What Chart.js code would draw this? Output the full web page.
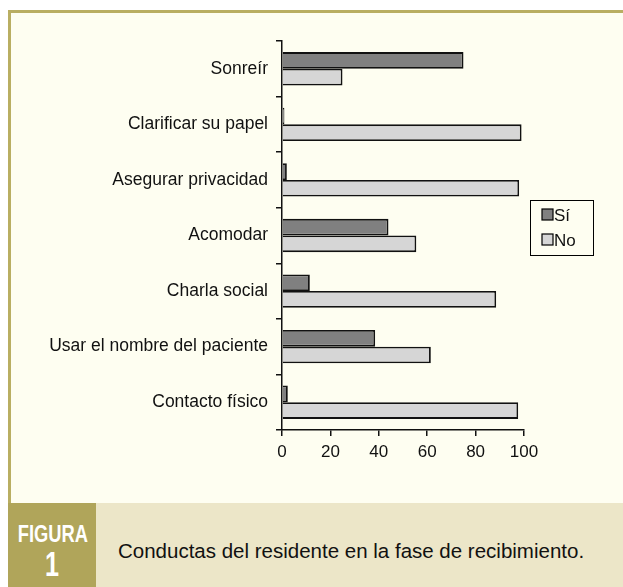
<!DOCTYPE html>
<html>
<head>
<meta charset="utf-8">
<script src="https://cdn.jsdelivr.net/npm/chart.js@4.4.0/dist/chart.umd.min.js"></script>
<style>
  body { margin: 0; background: #fff; width: 623px; height: 587px; overflow: hidden; position: relative;
         font-family: 'Liberation Sans', sans-serif; }
  .frame { position: absolute; left: 8px; top: 10px; width: 640px; height: 493px;
           background: #fefef1; border-top: 3px solid #b9ae62; border-left: 3px solid #b9ae62; box-sizing: border-box; }
  .band { position: absolute; left: 8px; top: 503px; width: 615px; height: 84px; background: #ece6c8; }
  .fig { position: absolute; left: 8px; top: 503px; width: 88px; height: 84px; background: #b0a55a; }
  .fig div { position: absolute; left: 0; width: 88px; text-align: center; color: #fff; font-weight: bold; }
  .fig .t { top: 17px; font-size: 23.5px; line-height: 28px; transform: scaleX(0.78); }
  .fig .n { top: 41px; font-size: 35px; line-height: 40px; transform: scaleX(0.72); }
  .cap { position: absolute; left: 118px; top: 539px; font-size: 20.5px; color: #111; }
  #wrap { position: absolute; left: 10px; top: 12px; width: 600px; height: 490px; }
</style>
</head>
<body>
<div class="frame"></div>
<div class="band"></div>
<div class="fig"><div class="t">FIGURA</div><div class="n">1</div></div>
<div class="cap">Conductas del residente en la fase de recibimiento.</div>
<div id="wrap"><canvas id="chart"></canvas></div>
<script>
// data
const categories = ['Sonreír', 'Clarificar su papel', 'Asegurar privacidad', 'Acomodar',
  'Charla social', 'Usar el nombre del paciente', 'Contacto físico'];
const seriesNames = ['Sí', 'No'];
const siValues = [75, 1, 2, 44, 11.5, 38.5, 2.4];
const noValues = [25, 99, 98, 55.5, 88.5, 61.5, 97.6];
const xTicks = [0, 20, 40, 60, 80, 100];

const font = "'Liberation Sans', sans-serif";

// legend box drawn on canvas
const boxLegend = {
  id: 'boxLegend',
  afterDraw(chart) {
    const ctx = chart.ctx;
    const x = 520, y = 188, w = 63, h = 55;
    ctx.save();
    ctx.fillStyle = '#fefef1';
    ctx.strokeStyle = '#000';
    ctx.lineWidth = 1;
    ctx.fillRect(x, y, w, h);
    ctx.strokeRect(x + 0.5, y + 0.5, w, h);
    ctx.font = '17px ' + font;
    ctx.textBaseline = 'middle';
    chart.data.datasets.forEach((ds, i) => {
      const cy = y + 15 + i * 25;
      ctx.fillStyle = ds.backgroundColor;
      ctx.fillRect(x + 12, cy - 6, 11, 11);
      ctx.lineWidth = 1.2;
      ctx.strokeRect(x + 12, cy - 6, 11, 11);
      ctx.fillStyle = '#111';
      ctx.fillText(ds.label, x + 24, cy + 1);
    });
    ctx.restore();
  }
};

new Chart(document.getElementById('chart'), {
  type: 'bar',
  data: {
    labels: categories,
    datasets: [
      { label: seriesNames[0], data: siValues, backgroundColor: '#808080', borderColor: '#111', borderWidth: 1.8 },
      { label: seriesNames[1], data: noValues, backgroundColor: '#d6d6d6', borderColor: '#111', borderWidth: 1.8 }
    ]
  },
  options: {
    indexAxis: 'y',
    responsive: true,
    maintainAspectRatio: false,
    animation: false,
    categoryPercentage: 0.6,
    barPercentage: 1,
    layout: { padding: { top: 29, right: 86, bottom: 0, left: 0 } },
    plugins: { legend: { display: false }, tooltip: { enabled: false } },
    scales: {
      x: {
        min: 0, max: 100,
        afterBuildTicks: s => { s.ticks = xTicks.map(v => ({ value: v })); },
        afterFit: s => { s.height = 72; },
        border: { color: '#111', width: 1.5 },
        grid: { drawOnChartArea: false, color: '#111', tickLength: 6, lineWidth: 1.5 },
        ticks: { color: '#111', font: { family: font, size: 17 }, padding: 6 }
      },
      y: {
        afterFit: s => { s.width = 272; },
        border: { color: '#111', width: 1.5 },
        grid: { drawOnChartArea: false, color: '#111', tickLength: 6, lineWidth: 1.5 },
        ticks: { color: '#111', font: { family: font, size: 17.5 }, padding: 8 }
      }
    }
  },
  plugins: [boxLegend]
});
</script>
</body>
</html>
